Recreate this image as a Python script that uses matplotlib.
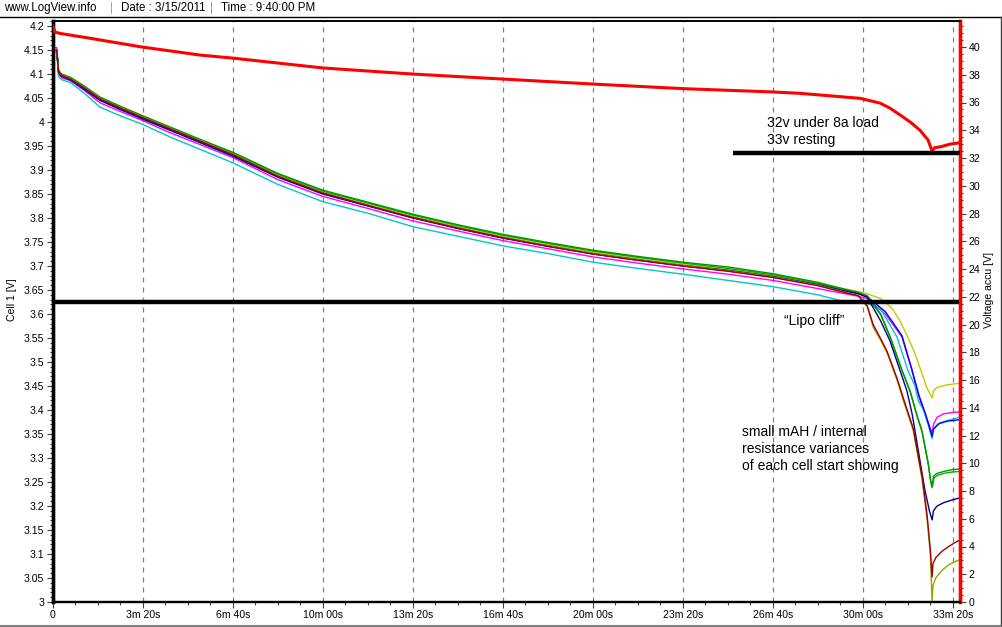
#!/usr/bin/env python3
"""LogView discharge log: 10S lipo pack under 8A load, single cells vs pack voltage."""

import numpy as np
import matplotlib
matplotlib.use("Agg")
import matplotlib.pyplot as plt
from matplotlib.ticker import MultipleLocator, FixedLocator, FixedFormatter
from matplotlib.lines import Line2D

plt.rcParams["font.family"] = ["Liberation Sans", "DejaVu Sans"]

# ---- data --------------------------------------------------------------------
# flat part of the discharge, seconds
T_FLAT = [0, 9, 13, 20, 40, 70, 105, 150, 200, 260, 330, 400, 500, 600, 700,
          800, 900, 1000, 1100, 1200, 1300, 1400, 1500, 1600, 1700, 1750, 1790]

GREEN_FLAT = [4.150, 4.150, 4.108, 4.100, 4.093, 4.075, 4.052, 4.033, 4.013, 3.990,
              3.963, 3.937, 3.893, 3.858, 3.833, 3.808, 3.786, 3.766, 3.749, 3.733,
              3.720, 3.708, 3.698, 3.684, 3.666, 3.654, 3.645]
LIME_FLAT = [4.150, 4.150, 4.106, 4.099, 4.091, 4.073, 4.050, 4.031, 4.011, 3.988,
             3.961, 3.935, 3.891, 3.856, 3.831, 3.806, 3.784, 3.764, 3.747, 3.731,
             3.718, 3.706, 3.695, 3.682, 3.664, 3.652, 3.643]
YELLOW_FLAT = [4.148, 4.148, 4.105, 4.097, 4.089, 4.071, 4.048, 4.029, 4.009, 3.986,
               3.959, 3.933, 3.889, 3.853, 3.828, 3.803, 3.781, 3.761, 3.744, 3.728,
               3.715, 3.703, 3.692, 3.680, 3.664, 3.654, 3.647]
OLIVE_FLAT = [4.150, 4.150, 4.106, 4.098, 4.090, 4.072, 4.049, 4.030, 4.010, 3.987,
              3.960, 3.933, 3.888, 3.853, 3.827, 3.802, 3.780, 3.760, 3.742, 3.726,
              3.713, 3.701, 3.690, 3.677, 3.660, 3.648, 3.638]
MAROON_FLAT = [4.150, 4.150, 4.105, 4.097, 4.089, 4.071, 4.048, 4.029, 4.009, 3.986,
               3.959, 3.932, 3.887, 3.852, 3.826, 3.801, 3.779, 3.759, 3.741, 3.725,
               3.712, 3.700, 3.689, 3.676, 3.659, 3.647, 3.638]
NAVY_FLAT = [4.150, 4.150, 4.104, 4.096, 4.088, 4.069, 4.046, 4.027, 4.007, 3.984,
             3.957, 3.930, 3.886, 3.851, 3.826, 3.801, 3.779, 3.759, 3.742, 3.726,
             3.713, 3.701, 3.691, 3.678, 3.661, 3.650, 3.642]
BLUE_FLAT = [4.150, 4.150, 4.103, 4.095, 4.087, 4.068, 4.045, 4.026, 4.006, 3.983,
             3.956, 3.929, 3.885, 3.850, 3.825, 3.800, 3.778, 3.758, 3.741, 3.725,
             3.712, 3.700, 3.690, 3.677, 3.661, 3.651, 3.644]
MAGENTA_FLAT = [4.155, 4.155, 4.100, 4.092, 4.086, 4.066, 4.040, 4.022, 4.003, 3.978,
                3.952, 3.926, 3.880, 3.845, 3.820, 3.794, 3.773, 3.753, 3.736, 3.719,
                3.706, 3.694, 3.683, 3.670, 3.653, 3.644, 3.637]
CYAN_FLAT = [4.145, 4.145, 4.095, 4.088, 4.082, 4.060, 4.031, 4.013, 3.995, 3.969,
             3.942, 3.915, 3.870, 3.834, 3.810, 3.782, 3.762, 3.742, 3.726, 3.708,
             3.695, 3.683, 3.670, 3.657, 3.640, 3.628, 3.624]

# the "cliff" and the recovery after the load is removed
GREEN_TAIL_T = [1810, 1840, 1861, 1887, 1905, 1920, 1931, 1945, 1951, 1954, 1957, 1965, 1980, 2000, 2016]
GREEN_TAIL_V = [3.638, 3.600, 3.552, 3.483, 3.440, 3.390, 3.358, 3.290, 3.250, 3.238, 3.262, 3.268, 3.272, 3.276, 3.277]
LIME_TAIL_T = [1810, 1840, 1862, 1888, 1906, 1921, 1932, 1946, 1951, 1955, 1958, 1966, 1980, 2000, 2016]
LIME_TAIL_V = [3.636, 3.598, 3.549, 3.480, 3.436, 3.386, 3.354, 3.286, 3.252, 3.242, 3.258, 3.264, 3.268, 3.271, 3.272]
YELLOW_TAIL_T = [1810, 1840, 1865, 1883, 1900, 1915, 1930, 1943, 1954, 1957, 1965, 1985, 2016]
YELLOW_TAIL_V = [3.642, 3.632, 3.612, 3.585, 3.552, 3.520, 3.480, 3.445, 3.425, 3.440, 3.447, 3.452, 3.456]
OLIVE_TAIL_T = [1810, 1823, 1840, 1854, 1876, 1890, 1912, 1932, 1943, 1950, 1954, 1956, 1962, 1975, 1990, 2005, 2016]
OLIVE_TAIL_V = [3.615, 3.573, 3.545, 3.519, 3.463, 3.420, 3.358, 3.254, 3.171, 3.100, 3.000, 3.035, 3.050, 3.065, 3.077, 3.084, 3.088]
MAROON_TAIL_T = [1810, 1823, 1840, 1854, 1876, 1890, 1912, 1932, 1943, 1950, 1954, 1956, 1962, 1975, 1990, 2005, 2016]
MAROON_TAIL_V = [3.617, 3.578, 3.548, 3.522, 3.466, 3.425, 3.362, 3.260, 3.180, 3.110, 3.052, 3.080, 3.092, 3.105, 3.115, 3.124, 3.129]
NAVY_TAIL_T = [1810, 1840, 1860, 1880, 1898, 1910, 1922, 1938, 1948, 1954, 1957, 1965, 1980, 2000, 2016]
NAVY_TAIL_V = [3.635, 3.585, 3.545, 3.490, 3.440, 3.390, 3.323, 3.233, 3.190, 3.171, 3.190, 3.200, 3.207, 3.213, 3.217]
BLUE_TAIL_T = [1810, 1850, 1887, 1909, 1925, 1940, 1954, 1957, 1970, 1990, 2016]
BLUE_TAIL_V = [3.636, 3.605, 3.555, 3.485, 3.430, 3.390, 3.345, 3.360, 3.372, 3.377, 3.380]
MAGENTA_TAIL_T = [1810, 1850, 1887, 1909, 1920, 1931, 1945, 1954, 1957, 1965, 1980, 2000, 2016]
MAGENTA_TAIL_V = [3.632, 3.600, 3.552, 3.483, 3.440, 3.410, 3.375, 3.352, 3.370, 3.385, 3.392, 3.395, 3.396]
CYAN_TAIL_T = [1810, 1840, 1876, 1900, 1916, 1923, 1935, 1945, 1954, 1957, 1965, 1980, 2000, 2016]
CYAN_TAIL_V = [3.622, 3.610, 3.552, 3.483, 3.450, 3.420, 3.400, 3.370, 3.340, 3.360, 3.370, 3.376, 3.381, 3.385]

# pack voltage, right axis
PACK_T = [0, 5, 16, 83, 194, 327, 400, 600, 800, 1000, 1200, 1400, 1600, 1661, 1794,
          1838, 1860, 1883, 1905, 1927, 1945, 1954, 1960, 1972, 1994, 2016]
PACK_V = [41.51, 41.08, 40.98, 40.63, 40.02, 39.42, 39.20, 38.49, 38.05, 37.69, 37.33,
          37.00, 36.76, 36.66, 36.30, 35.96, 35.60, 35.10, 34.60, 34.00, 33.30, 32.50,
          32.75, 32.80, 33.00, 33.10]

LIPO_CLIFF_V = 3.625      # horizontal marker, cell axis
PACK_LOAD_V = 32.36       # horizontal marker, pack axis
PACK_LOAD_START = 1512

X_TICKS = [0, 200, 400, 600, 800, 1000, 1200, 1400, 1600, 1800, 2000]
X_LABELS = ["0", "3m 20s", "6m 40s", "10m 00s", "13m 20s", "16m 40s", "20m 00s",
            "23m 20s", "26m 40s", "30m 00s", "33m 20s"]

CELLS = [
    ("#c8c800", YELLOW_FLAT, YELLOW_TAIL_T, YELLOW_TAIL_V),
    ("#ff00ff", MAGENTA_FLAT, MAGENTA_TAIL_T, MAGENTA_TAIL_V),
    ("#00c8c8", CYAN_FLAT, CYAN_TAIL_T, CYAN_TAIL_V),
    ("#0000ff", BLUE_FLAT, BLUE_TAIL_T, BLUE_TAIL_V),
    ("#00b400", LIME_FLAT, LIME_TAIL_T, LIME_TAIL_V),
    ("#009600", GREEN_FLAT, GREEN_TAIL_T, GREEN_TAIL_V),
    ("#000096", NAVY_FLAT, NAVY_TAIL_T, NAVY_TAIL_V),
    ("#a0a000", OLIVE_FLAT, OLIVE_TAIL_T, OLIVE_TAIL_V),
    ("#a00000", MAROON_FLAT, MAROON_TAIL_T, MAROON_TAIL_V),
]

W, H = 1002, 627


def main():
    fig = plt.figure(figsize=(W / 100, H / 100), dpi=100, facecolor="white")
    ax = fig.add_axes([52.7 / W, 25 / H, (960 - 52.7) / W, (602 - 21) / H])
    ax2 = ax.twinx()

    # cell lines
    for color, flat, tail_t, tail_v in CELLS:
        ax.plot(T_FLAT + tail_t, flat + tail_v, color=color, lw=1.0, zorder=3)

    ax.axhline(LIPO_CLIFF_V, color="black", lw=3.2, zorder=4)

    ax.set_xlim(0, 2016)
    ax.set_ylim(3.0, 4.2104)
    ax2.set_ylim(0, (602 - 21) / 13.875)

    ax2.plot(PACK_T, PACK_V, color="#ff0000", lw=2.2, zorder=3)
    ax2.plot([PACK_LOAD_START, 2016], [PACK_LOAD_V, PACK_LOAD_V],
             color="black", lw=3.2, solid_capstyle="butt", zorder=4)

    # x axis
    ax.xaxis.set_major_locator(FixedLocator(X_TICKS))
    ax.xaxis.set_major_formatter(FixedFormatter(X_LABELS))
    ax.xaxis.set_minor_locator(MultipleLocator(50))
    ax.xaxis.grid(True, which="major", color="#808080", lw=0.9,
                  linestyle=(0, (4, 4)))
    ax.set_axisbelow(True)

    # left axis
    ax.yaxis.set_major_locator(MultipleLocator(0.05))
    ax.yaxis.set_minor_locator(MultipleLocator(0.01))
    ax.yaxis.set_major_formatter(plt.FuncFormatter(lambda v, _: f"{v:.2f}".rstrip("0").rstrip(".")))

    ax.tick_params(axis="both", which="major", labelsize=7.6, length=4,
                   width=0.8, color="#404040", pad=2)
    ax.tick_params(axis="both", which="minor", length=2, width=0.8, color="#404040")

    # right axis
    ax2.yaxis.set_major_locator(MultipleLocator(2))
    ax2.yaxis.set_minor_locator(MultipleLocator(0.5))
    ax2.tick_params(axis="y", which="major", labelsize=7.6, length=4,
                    width=0.8, color="#404040", pad=2)
    ax2.tick_params(axis="y", which="minor", length=2, width=0.8, color="#404040")

    for a in (ax, ax2):
        a.spines["top"].set_linewidth(1.2)
        a.spines["bottom"].set_linewidth(1.6)
        a.spines["left"].set_linewidth(2.4)
        a.spines["left"].set_color("black")
        a.spines["right"].set_linewidth(2.4)
        a.spines["right"].set_color("#ff0000")

    fig.text(12 / W, 1 - 300 / H, "Cell 1 [V]", rotation=90, ha="center",
             va="center", fontsize=7.6)
    fig.text(989 / W, 1 - 290 / H, "Voltage accu [V]", rotation=90, ha="center",
             va="center", fontsize=7.6)

    # annotations
    txt = dict(fontsize=10, color="black", ha="left", va="center",
               transform=fig.transFigure)
    fig.text(767 / W, 1 - 123 / H, "32v under 8a load", **txt)
    fig.text(767 / W, 1 - 140 / H, "33v resting", **txt)
    fig.text(784 / W, 1 - 321 / H, "\u201cLipo cliff\u201d", **txt)
    fig.text(742 / W, 1 - 432 / H, "small mAH / internal", **txt)
    fig.text(742 / W, 1 - 449 / H, "resistance variances", **txt)
    fig.text(742 / W, 1 - 466 / H, "of each cell start showing", **txt)

    # LogView header and window frame
    hdr = dict(fontsize=8.3, va="center")
    fig.text(4 / W, 1 - 8 / H, "www.LogView.info", **hdr)
    fig.text(110 / W, 1 - 8 / H, "|", color="#e08a30", **hdr)
    fig.text(121 / W, 1 - 8 / H, "Date : 3/15/2011", **hdr)
    fig.text(210 / W, 1 - 8 / H, "|", color="#5a9ad8", **hdr)
    fig.text(221 / W, 1 - 8 / H, "Time : 9:40:00 PM", **hdr)
    fig.add_artist(Line2D([0, 1], [1 - 16.5 / H, 1 - 16.5 / H], color="black",
                          lw=1.0, transform=fig.transFigure))
    fig.add_artist(Line2D([0, 1], [1 - 625.5 / H, 1 - 625.5 / H], color="#808080",
                          lw=1.5, transform=fig.transFigure))
    fig.add_artist(Line2D([1000.5 / W, 1000.5 / W], [1 - 625 / H, 1 - 16.5 / H],
                          color="#404040", lw=1.0, transform=fig.transFigure))

    fig.savefig("out.png", dpi=100, facecolor="white")
    plt.close(fig)


if __name__ == "__main__":
    main()
